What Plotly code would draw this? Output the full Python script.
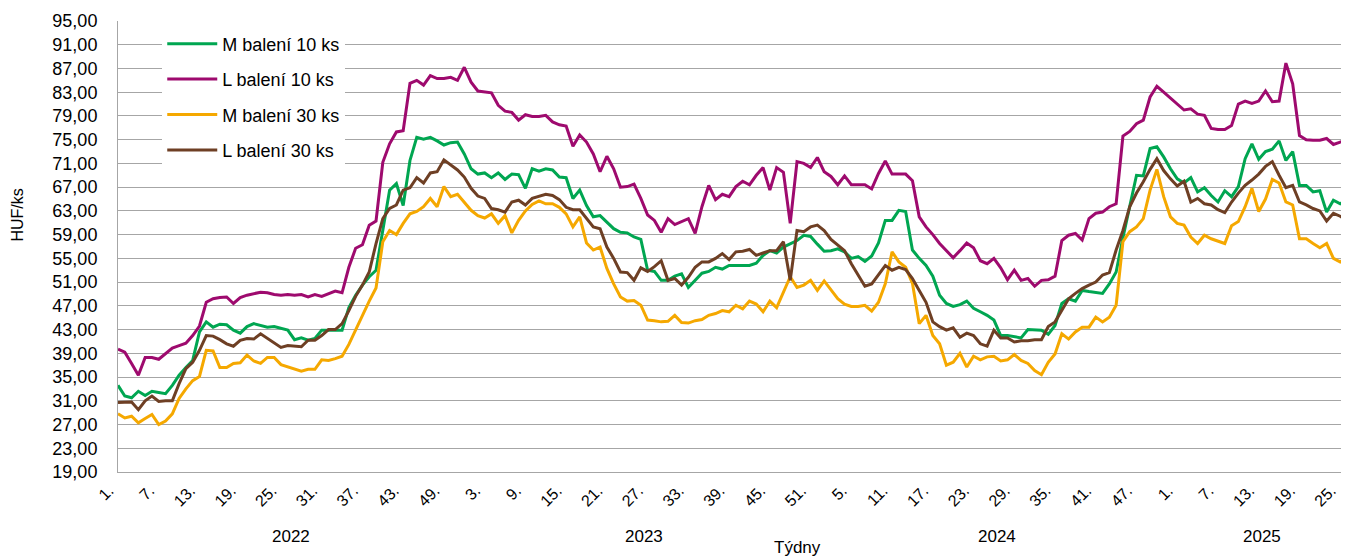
import plotly.graph_objects as go

# ---- categories -------------------------------------------------------
years = [2022, 2023, 2024, 2025]
weeks_in_year = [52, 52, 52, 26]
tick_step = 6

# ---- series values (HUF/ks) ----------------------------------------------
m_10 = [
    # 2022
    33.6, 31.8, 31.5, 32.6, 31.9, 32.6, 32.4, 32.2, 33.6, 35.3,
    36.6, 37.8, 42.6, 44.3, 43.4, 43.9, 43.8, 42.9, 42.4, 43.5,
    44.0, 43.7, 43.4, 43.5, 43.2, 42.9, 41.3, 41.6, 41.2, 41.5,
    42.9, 42.9, 42.9, 42.9, 46.7, 48.8, 50.5, 51.9, 53.0, 59.7,
    66.5, 67.6, 63.9, 71.5, 75.4, 75.1, 75.4, 74.8, 74.1, 74.5,
    74.6, 72.6,
    # 2023
    70.1, 69.2, 69.4, 68.6, 69.4, 68.3, 69.2, 69.1, 66.8, 70.1,
    69.7, 70.1, 69.9, 68.7, 68.6, 65.1, 66.5, 63.9, 62.0, 62.2,
    61.1, 60.0, 59.4, 59.3, 58.6, 58.2, 53.0, 52.8, 51.3, 51.3,
    52.0, 52.4, 50.1, 51.3, 52.5, 52.8, 53.5, 53.2, 53.8, 53.8,
    53.8, 53.8, 54.2, 55.5, 56.3, 55.9, 56.9, 57.4, 58.0, 58.9,
    58.7, 57.4,
    # 2024
    56.2, 56.3, 56.6, 56.1, 55.0, 55.3, 54.5, 55.4, 57.6, 61.4,
    61.4, 63.1, 62.9, 56.4, 55.0, 53.8, 52.0, 48.8, 47.4, 46.9,
    47.2, 47.8, 46.6, 46.0, 45.4, 44.6, 42.0, 42.0, 41.8, 41.6,
    43.0, 43.0, 42.9, 42.2, 43.7, 47.4, 48.2, 47.8, 49.6, 49.4,
    49.3, 49.1, 50.7, 52.7, 58.5, 63.5, 69.0, 68.9, 73.5, 73.8,
    72.1, 70.1,
    # 2025
    68.4, 67.7, 68.6, 66.2, 66.9, 65.6, 64.5, 66.4, 65.4, 67.1,
    71.8, 74.3, 71.7, 73.0, 73.4, 74.8, 71.5, 73.0, 67.3, 67.3,
    66.2, 66.4, 62.8, 64.8, 64.2, 64.9,
]

l_10 = [
    # 2022
    39.7, 39.2, 37.3, 35.3, 38.3, 38.3, 38.0, 39.0, 39.9, 40.3,
    40.7, 42.0, 43.6, 47.6, 48.2, 48.4, 48.5, 47.4, 48.4, 48.8,
    49.0, 49.3, 49.2, 48.9, 48.8, 48.9, 48.8, 48.9, 48.5, 48.9,
    48.6, 49.0, 49.5, 49.2, 53.5, 56.7, 57.3, 60.6, 61.3, 71.2,
    74.3, 76.3, 76.5, 84.5, 85.0, 84.2, 85.8, 85.3, 85.3, 85.5,
    85.0, 87.2,
    # 2023
    84.7, 83.2, 83.0, 82.9, 80.8, 79.8, 79.6, 78.3, 79.2, 78.9,
    78.9, 79.1, 78.0, 77.5, 77.3, 73.9, 75.8, 74.6, 72.6, 69.6,
    72.2, 70.1, 67.0, 67.1, 67.5, 65.1, 62.3, 61.4, 59.4, 61.7,
    60.7, 61.2, 61.7, 59.2, 63.7, 67.3, 64.9, 65.8, 65.4, 67.1,
    68.0, 67.4, 69.0, 70.3, 66.5, 70.3, 69.5, 60.9, 71.3, 71.0,
    70.3, 72.0,
    # 2024
    69.6, 68.8, 67.4, 68.9, 67.4, 67.4, 67.4, 66.7, 69.3, 71.4,
    69.2, 69.2, 69.2, 68.1, 62.0, 60.3, 59.0, 57.5, 56.3, 55.1,
    56.3, 57.6, 56.8, 54.6, 54.1, 55.0, 53.4, 51.4, 53.0, 51.3,
    51.6, 50.3, 51.3, 51.4, 52.0, 58.0, 58.9, 59.2, 58.1, 61.7,
    62.6, 62.8, 63.7, 64.2, 75.6, 76.4, 77.7, 78.3, 82.2, 84.0,
    83.0, 82.0,
    # 2025
    81.1, 80.0, 80.2, 79.3, 79.1, 76.9, 76.7, 76.7, 77.4, 81.0,
    81.5, 81.1, 81.5, 83.2, 81.4, 81.5, 87.9, 84.4, 75.7, 75.0,
    74.9, 74.9, 75.2, 74.2, 74.6, 75.0,
]

m_30 = [
    # 2022
    28.8, 28.1, 28.4, 27.3, 28.0, 28.7, 27.0, 27.6, 28.8, 31.4,
    33.0, 34.4, 35.1, 39.5, 39.4, 36.6, 36.6, 37.3, 37.4, 38.7,
    37.7, 37.3, 38.3, 38.3, 37.1, 36.7, 36.4, 36.0, 36.3, 36.3,
    37.9, 37.8, 38.1, 38.5, 40.5, 43.0, 45.5, 47.8, 50.0, 57.8,
    59.7, 59.0, 60.9, 62.5, 62.9, 63.7, 65.1, 63.7, 67.1, 65.4,
    65.8, 64.5,
    # 2023
    63.1, 62.2, 61.8, 62.5, 60.9, 62.2, 59.3, 61.4, 63.0, 64.1,
    64.7, 64.2, 64.2, 63.6, 62.5, 60.3, 62.0, 57.6, 56.4, 56.9,
    53.3, 50.7, 48.5, 47.8, 47.9, 47.1, 44.6, 44.5, 44.3, 44.4,
    45.4, 44.2, 44.1, 44.5, 44.7, 45.4, 45.7, 46.2, 46.0, 47.1,
    46.5, 47.8, 47.3, 46.0, 47.8, 46.7, 49.3, 51.9, 50.1, 50.5,
    51.3, 49.6,
    # 2024
    51.2, 49.7, 48.2, 47.3, 46.9, 46.9, 47.1, 46.1, 47.6, 50.7,
    56.1, 54.4, 53.5, 50.8, 44.0, 45.4, 42.0, 40.6, 37.0, 37.5,
    39.0, 36.7, 38.5, 37.9, 38.4, 38.5, 37.7, 37.9, 38.8, 37.8,
    37.3, 36.1, 35.4, 37.5, 38.9, 42.3, 41.4, 42.6, 43.4, 43.4,
    45.1, 44.3, 45.1, 47.1, 57.8, 59.5, 60.3, 61.7, 66.5, 70.0,
    65.4, 62.0,
    # 2025
    60.9, 60.6, 58.6, 57.5, 58.9, 58.3, 57.9, 57.5, 60.5, 61.2,
    63.7, 66.8, 62.9, 65.0, 68.3, 67.7, 64.5, 64.0, 58.3, 58.3,
    57.5, 56.8, 57.5, 55.0, 54.4, 55.2,
]

l_30 = [
    # 2022
    30.7, 30.8, 30.8, 29.5, 31.0, 31.8, 30.9, 31.0, 31.0, 33.9,
    36.4, 37.5, 39.5, 42.0, 41.9, 41.3, 40.6, 40.2, 41.2, 41.5,
    41.4, 42.3, 41.5, 40.7, 40.0, 40.3, 40.2, 40.1, 41.2, 41.2,
    42.0, 43.0, 43.0, 44.0, 46.2, 48.6, 50.5, 52.7, 57.5, 61.7,
    63.4, 64.0, 66.5, 66.9, 68.6, 67.7, 69.4, 69.6, 71.6, 70.7,
    69.9, 68.7,
    # 2023
    66.8, 65.5, 65.1, 63.4, 63.2, 62.8, 64.5, 64.8, 64.0, 65.1,
    65.4, 65.8, 65.6, 64.9, 63.6, 63.2, 63.2, 61.7, 60.3, 60.0,
    56.9, 55.0, 52.7, 52.6, 51.3, 53.4, 52.8, 53.6, 54.6, 51.3,
    51.6, 50.5, 51.8, 53.5, 54.4, 54.4, 55.0, 55.8, 54.8, 56.1,
    56.2, 56.5, 55.5, 55.9, 56.3, 56.3, 57.8, 51.3, 59.7, 59.5,
    60.3, 60.6,
    # 2024
    59.7, 58.2, 57.2, 56.3, 54.1, 52.2, 50.3, 50.7, 52.3, 53.8,
    53.0, 53.5, 53.1, 51.6, 49.6, 47.6, 44.3, 43.5, 42.9, 43.3,
    41.7, 42.4, 42.0, 40.6, 40.2, 42.9, 41.6, 41.6, 40.9, 41.1,
    41.1, 41.3, 41.3, 43.5, 44.3, 46.2, 48.2, 49.1, 49.9, 50.5,
    51.0, 52.2, 52.6, 56.4, 59.7, 63.7, 66.0, 67.9, 70.0, 71.8,
    69.8, 68.4,
    # 2025
    67.2, 68.0, 64.5, 65.1, 64.2, 64.0, 63.2, 62.7, 64.5, 66.0,
    67.3, 68.2, 69.2, 70.5, 71.3, 69.0, 66.9, 67.3, 64.5, 64.0,
    63.4, 63.0, 61.3, 62.6, 62.1, 61.3,
]

series_names = ["M balení 10 ks", "L balení 10 ks", "M balení 30 ks", "L balení 30 ks"]
series_colors = ["#00A651", "#9E0A6E", "#F5A800", "#6E3F24"]

# ---- build category index ---------------------------------------------
week_num = []
year_of = []
for yr, n in zip(years, weeks_in_year):
    for w in range(1, n + 1):
        week_num.append(w)
        year_of.append(yr)
x = list(range(len(week_num)))
tickvals = x[::tick_step]
ticktext = [f"{week_num[i]}." for i in tickvals]

FONT = "Liberation Sans, Arial, sans-serif"
GRID = "#A6A6A6"

fig = go.Figure()
for i, (name, vals, col) in enumerate(zip(series_names, [m_10, l_10, m_30, l_30], series_colors)):
    fig.add_trace(go.Scatter(
        x=x, y=vals, mode="lines", name=name,
        line=dict(color=col, width=3),
        legendgroup=f"g{i}", hoverinfo="skip",
    ))

# the page body adds an 8px margin, so the figure is sized to compensate
fig.update_layout(
    width=1341, height=551,
    margin=dict(l=110, r=2, t=13, b=87),
    paper_bgcolor="white", plot_bgcolor="white",
    font=dict(family=FONT, color="#000000", size=16),
    separators=", ",
    showlegend=True,
    legend=dict(
        x=0.036, y=0.99, xanchor="left", yanchor="top",
        bgcolor="white", borderwidth=0,
        font=dict(family=FONT, size=18, color="#000000"),
        tracegroupgap=9, itemwidth=50,
    ),
)

fig.update_yaxes(
    range=[19, 95], tick0=19, dtick=4, tickformat=".2f",
    showgrid=True, gridcolor=GRID, gridwidth=1,
    showline=True, linecolor=GRID, linewidth=1,
    ticks="", ticklabelstandoff=16, automargin=False,
    tickfont=dict(family=FONT, size=18, color="#000000"),
    zeroline=False, fixedrange=True,
)
fig.update_xaxes(
    range=[0, len(x) - 1],
    tickmode="array", tickvals=tickvals, ticktext=ticktext,
    tickangle=-45, tickfont=dict(family=FONT, size=16, color="#000000"),
    ticklabelshift=-9, ticklabelstandoff=2, automargin=False,
    showgrid=False, showline=True, linecolor=GRID, linewidth=1,
    ticks="", zeroline=False, fixedrange=True,
)

# year labels under the week ticks
for yr in years:
    idx = [i for i, yy in enumerate(year_of) if yy == yr]
    fig.add_annotation(
        x=(idx[0] + idx[-1]) / 2, y=-0.143, xref="x", yref="paper",
        text=str(yr), showarrow=False, yanchor="middle",
        font=dict(family=FONT, size=17, color="#000000"),
    )

fig.add_annotation(
    x=(797 - 118) / 1229, y=-0.167, xref="paper", yref="paper",
    text="Týdny", showarrow=False, yanchor="middle",
    font=dict(family=FONT, size=17, color="#000000"),
)
fig.add_annotation(
    x=-0.082, y=(471.7 - 215) / 451, xref="paper", yref="paper",
    text="HUF/ks", showarrow=False, textangle=-90,
    xanchor="center", yanchor="middle",
    font=dict(family=FONT, size=16, color="#000000"),
)

fig.write_html("out.html")
